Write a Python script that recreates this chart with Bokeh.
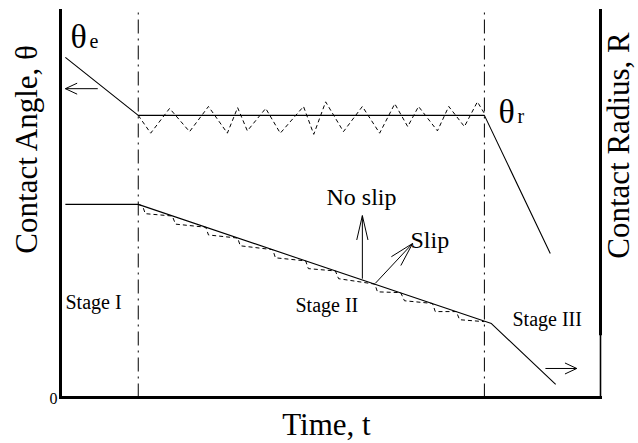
import math
from bokeh.plotting import figure
from bokeh.models import Range1d, Label
from bokeh.embed import file_html
from bokeh.resources import INLINE

# ---------------- data (schematic units, 0..100 on both axes) ----------------
TIME_THETA = [0.9, 14.4, 78.5, 90.7]
THETA = [87.9, 72.9, 72.9, 37.2]

TIME_R = [0.9, 14.4, 79.8, 91.7]
RADIUS = [49.9, 49.9, 19.1, 3.4]

TIME_THETA_ZZ = [14.4, 16.7, 20.2, 23.9, 27.4, 30.9, 32.8, 34.6, 38.0, 40.7, 45.0, 46.9,
                 49.1, 52.4, 55.9, 59.1, 61.9, 64.3, 66.3, 69.8, 71.9, 74.8, 77.2, 78.5]
THETA_ZZ = [72.9, 68.3, 74.7, 68.7, 75.2, 68.3, 74.9, 68.9, 74.7, 68.3, 75.2, 68.0,
            76.4, 68.7, 75.2, 68.3, 75.9, 70.0, 75.2, 68.9, 75.2, 70.0, 76.4, 73.4]

TIME_R_ZZ = [14.4, 15.2, 15.7, 20.7, 21.3, 26.9, 27.4, 32.8, 33.3, 39.3, 39.8, 45.4,
             45.9, 50.9, 51.5, 58.2, 58.7, 63.0, 63.7, 68.9, 69.4, 73.3, 73.9, 78.5]
RADIUS_ZZ = [49.9, 49.5, 47.5, 46.9, 44.8, 44.0, 42.0, 41.2, 39.2, 38.2, 36.1, 35.3,
             33.3, 32.7, 30.7, 29.3, 27.3, 27.1, 25.0, 24.3, 22.2, 22.2, 20.1, 19.6]

STAGE_BOUNDS = [14.4, 78.5]

# arrows: tail (x0,y0) -> tip (x1,y1)
ARROW_X0 = [6.9, 89.8, 55.9, 58.3]
ARROW_Y0 = [79.8, 7.5, 30.7, 29.5]
ARROW_X1 = [0.9, 95.6, 55.9, 65.2]
ARROW_Y1 = [79.8, 7.5, 47.0, 39.8]
ARROW_HEAD_LEN = [13, 13, 25, 25]      # px
ARROW_HEAD_ANG = [25, 25, 13, 15]      # degrees

# ---------------- layout ----------------
W, H = 638, 443
BOX_L, BOX_R, BOX_T, BOX_B = 60, 600, 10, 397     # plot box in canvas pixels
X0, X1, Y0, Y1 = 0, 100, 0, 100                   # data extent of the box
PX_X = (BOX_R - BOX_L) / (X1 - X0)
PX_Y = (BOX_B - BOX_T) / (Y1 - Y0)
XR = Range1d(X0 - BOX_L / PX_X, X1 + (W - BOX_R) / PX_X)
YR = Range1d(Y0 - (H - BOX_B) / PX_Y, Y1 + BOX_T / PX_Y)
FONT = "Liberation Serif"
MID = 0.335   # baseline -> visual middle, in em

p = figure(width=W, height=H, x_range=XR, y_range=YR,
           output_backend="svg", toolbar_location=None,
           x_axis_location=None, y_axis_location=None)
p.min_border = 0
p.min_border_left = 0
p.min_border_right = 0
p.min_border_top = 0
p.min_border_bottom = 0
p.grid.visible = False
p.outline_line_color = None
p.background_fill_color = "white"
p.border_fill_color = "white"

# axes frame (left, bottom, right; no top)
R_SPLIT = 16.5
p.segment(x0=[X0, X0, X1], y0=[Y0, Y0, R_SPLIT], x1=[X0, X1, X1], y1=[Y1, Y0, Y1],
          line_color="black", line_width=3, line_cap="square")
p.segment(x0=[X1], y0=[Y0], x1=[X1], y1=[R_SPLIT], line_color="black", line_width=1.6)

# stage boundaries
p.segment(x0=STAGE_BOUNDS, y0=[Y0] * len(STAGE_BOUNDS), x1=STAGE_BOUNDS,
          y1=[Y1] * len(STAGE_BOUNDS), line_color="black", line_width=1,
          line_dash="14 5 2 5")

# main curves
p.line(TIME_THETA, THETA, line_color="black", line_width=1.1)
p.line(TIME_R, RADIUS, line_color="black", line_width=1.1)
p.line(TIME_THETA_ZZ, THETA_ZZ, line_color="black", line_width=1, line_dash="4 3")
p.line(TIME_R_ZZ, RADIUS_ZZ, line_color="black", line_width=1, line_dash="4 3")

# arrows (shaft + open head computed in pixel space)
sx0, sy0, sx1, sy1 = [], [], [], []
for x0, y0, x1, y1, hl, ha in zip(ARROW_X0, ARROW_Y0, ARROW_X1, ARROW_Y1,
                                  ARROW_HEAD_LEN, ARROW_HEAD_ANG):
    sx0.append(x0); sy0.append(y0); sx1.append(x1); sy1.append(y1)
    dx = (x0 - x1) * PX_X
    dy = (y0 - y1) * PX_Y
    L = math.hypot(dx, dy)
    ux, uy = dx / L, dy / L
    for s in (1, -1):
        a = s * math.radians(ha)
        rx = ux * math.cos(a) - uy * math.sin(a)
        ry = ux * math.sin(a) + uy * math.cos(a)
        sx0.append(x1); sy0.append(y1)
        sx1.append(x1 + rx * hl / PX_X); sy1.append(y1 + ry * hl / PX_Y)
p.segment(x0=sx0, y0=sy0, x1=sx1, y1=sy1, line_color="black", line_width=1)


def lab(text, px, py, size, align="left", vertical=False):
    # px, py: canvas pixels from top-left of the text's baseline anchor
    if vertical:
        px = px - MID * size
        angle = math.pi / 2
    else:
        py = py - MID * size
        angle = 0.0
    p.add_layout(Label(x=px, y=H - py, x_units="screen", y_units="screen", text=text,
                       text_font=FONT, text_font_size=f"{size}px", text_align=align,
                       text_baseline="middle", angle=angle, text_color="black"))


lab("0", 57, 403, 16, align="right")
lab("θ", 70, 47, 34)
lab("e", 89, 47, 20)
lab("θ", 498, 122, 34)
lab("r", 517, 122, 20)
lab("No slip", 326, 205, 24)
lab("Slip", 410, 248, 24)
lab("Stage I", 65, 308, 20)
lab("Stage II", 295, 311, 20)
lab("Stage III", 512, 325, 20)
lab("Time, t", 326, 434, 31, align="center")
lab("Contact Angle, θ", 36, 148, 31, align="center", vertical=True)
lab("Contact Radius, R", 628, 145, 31, align="center", vertical=True)

open("out.html", "w").write(file_html(p, INLINE))
